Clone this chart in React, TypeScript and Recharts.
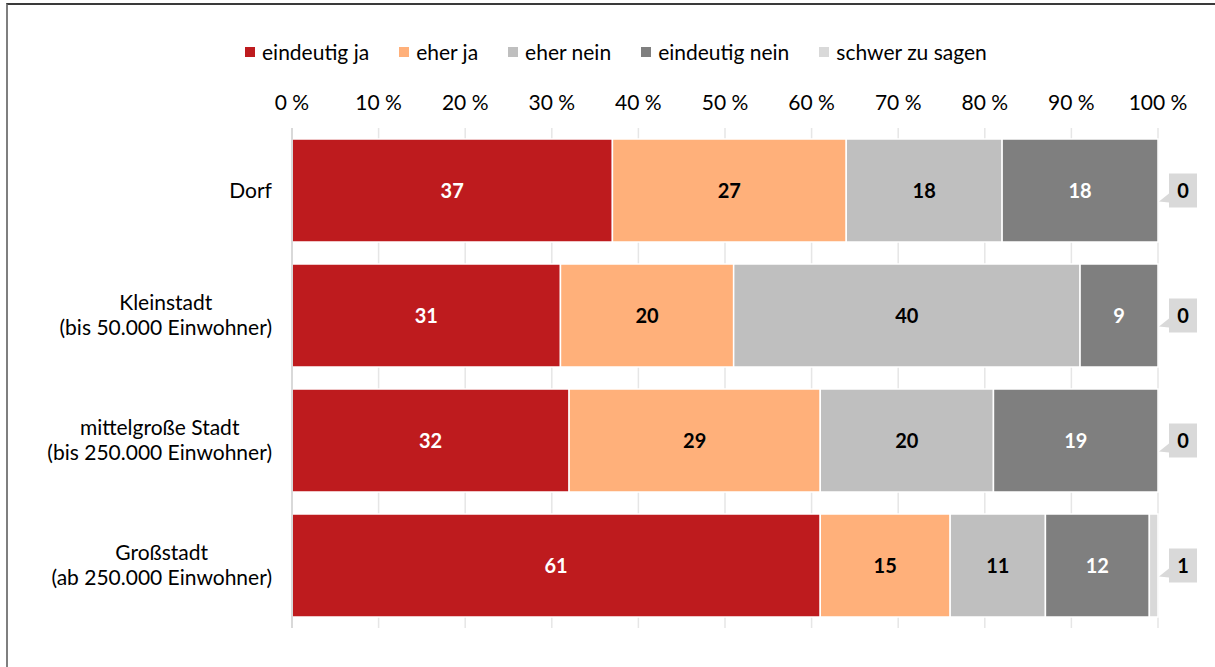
import { Bar, BarChart, CartesianGrid, LabelList, Legend, XAxis, YAxis } from 'recharts';

const categories = [
  'Dorf',
  'Kleinstadt\n(bis 50.000 Einwohner)',
  'mittelgroße Stadt\n(bis 250.000 Einwohner)',
  'Großstadt\n(ab 250.000 Einwohner)',
];
const eindeutigJa = [37, 31, 32, 61];
const eherJa = [27, 20, 29, 15];
const eherNein = [18, 40, 20, 11];
const eindeutigNein = [18, 9, 19, 12];
const schwerZuSagen = [0, 0, 0, 1];
const xTicks = [0, 10, 20, 30, 40, 50, 60, 70, 80, 90, 100];

const series = [
  { key: 'ja', name: 'eindeutig ja', color: '#BE1B1E', text: '#fff' },
  { key: 'eherJa', name: 'eher ja', color: '#FFB07A', text: '#000' },
  { key: 'eherNein', name: 'eher nein', color: '#BFBFBF', text: '#000' },
  { key: 'nein', name: 'eindeutig nein', color: '#7F7F7F', text: '#fff' },
  { key: 'schwer', name: 'schwer zu sagen', color: '#D9D9D9', text: '#000' },
];

const data = categories.map((c, i) => ({
  name: c,
  ja: eindeutigJa[i],
  eherJa: eherJa[i],
  eherNein: eherNein[i],
  nein: eindeutigNein[i],
  schwer: schwerZuSagen[i],
}));

const FONT = 'Lato, "Open Sans", sans-serif';
const FS = 21;

let ctx: CanvasRenderingContext2D | null = null;
function measure(s: string) {
  if (!ctx) ctx = document.createElement('canvas').getContext('2d');
  if (!ctx) return s.length * 10.5;
  ctx.font = `${FS}px Lato`;
  return ctx.measureText(s).width;
}

function CategoryTick(props: any) {
  const { x, y, payload } = props;
  const lines = String(payload.value).split('\n');
  const w = Math.max(...lines.map(measure));
  const cx = x - w / 2;
  const lh = 25;
  const y0 = y - ((lines.length - 1) * lh) / 2;
  return (
    <text x={cx} y={y0} textAnchor="middle" fontSize={FS} fill="#000" fontFamily={FONT}>
      {lines.map((l, i) => (
        <tspan key={i} x={cx} y={y0 + i * lh} dy="0.35em">
          {l}
        </tspan>
      ))}
    </text>
  );
}

// drawn from the "eindeutig nein" segment: its width / value gives px per unit,
// so the end of the (possibly zero-width) "schwer zu sagen" segment can be found
function Callout(props: any) {
  const { x, y, width, height, index } = props;
  const v = eindeutigNein[index];
  const rest = schwerZuSagen[index];
  const end = x + width + (v ? (width / v) * rest : 0);
  const cy = y + height / 2;
  const bx = end + 11;
  return (
    <g>
      <rect x={bx} y={cy - 17} width={28} height={34} fill="#D9D9D9" />
      <polygon points={`${bx},${cy + 3} ${end + 1},${cy + 11} ${bx},${cy + 12}`} fill="#D9D9D9" />
      <text x={bx + 14} y={cy} dy="0.35em" textAnchor="middle" fontSize={20} fontWeight="bold" fill="#000" fontFamily={FONT}>
        {rest}
      </text>
    </g>
  );
}

function LegendContent() {
  return (
    <div style={{ display: 'flex', paddingLeft: 245, fontFamily: FONT, fontSize: FS, lineHeight: '24px', color: '#000' }}>
      {series.map((s) => (
        <div key={s.key} style={{ display: 'flex', alignItems: 'center', marginRight: 30 }}>
          <span style={{ width: 10, height: 10, background: s.color, marginRight: 7, display: 'inline-block' }} />
          <span>{s.name}</span>
        </div>
      ))}
    </div>
  );
}

export default function App() {
  return (
    <div style={{ position: 'absolute', left: 0, top: 0, width: 1215, height: 667, overflow: 'hidden', background: '#fff' }}>
      <div
        style={{
          position: 'absolute',
          left: 6,
          top: 3,
          width: 1209,
          height: 664,
          borderTop: '2px solid #3a3a3a',
          borderLeft: '2px solid #7f7f7f',
          boxSizing: 'border-box',
        }}
      />
      <div style={{ position: 'absolute', left: 0, top: 0 }}>
        <BarChart
          width={1215}
          height={667}
          data={data}
          layout="vertical"
          margin={{ top: 98, right: 57, bottom: 39, left: 7 }}
          barSize={103}
        >
          <CartesianGrid horizontal={false} stroke="#E6E6E6" strokeWidth={1.5} />
          <XAxis
            type="number"
            orientation="top"
            domain={[0, 100]}
            ticks={xTicks}
            tickFormatter={(v) => `${v} %`}
            axisLine={false}
            tickLine={false}
            tickSize={6}
            tickMargin={12}
            height={30}
            tick={{ fill: '#000', fontSize: FS, fontFamily: FONT }}
          />
          <YAxis
            type="category"
            dataKey="name"
            width={285}
            axisLine={{ stroke: '#D9D9D9', strokeWidth: 2 }}
            tickLine={false}
            tickSize={0}
            tickMargin={20}
            tick={<CategoryTick />}
            interval={0}
          />
          <Legend
            verticalAlign="middle"
            layout="horizontal"
            wrapperStyle={{ top: 40, left: 0, width: 1215 }}
            content={<LegendContent />}
          />
          {series.map((s, idx) => (
            <Bar
              key={s.key}
              dataKey={s.key}
              name={s.name}
              stackId="a"
              fill={s.color}
              stroke="#fff"
              strokeWidth={1.5}
              isAnimationActive={false}
            >
              {idx < 4 && (
                <LabelList
                  dataKey={s.key}
                  position="center"
                  fill={s.text}
                  fontSize={20}
                  fontWeight="bold"
                  fontFamily={FONT}
                />
              )}
              {idx === 3 && <LabelList dataKey="schwer" content={<Callout />} />}
            </Bar>
          ))}
        </BarChart>
      </div>
    </div>
  );
}
